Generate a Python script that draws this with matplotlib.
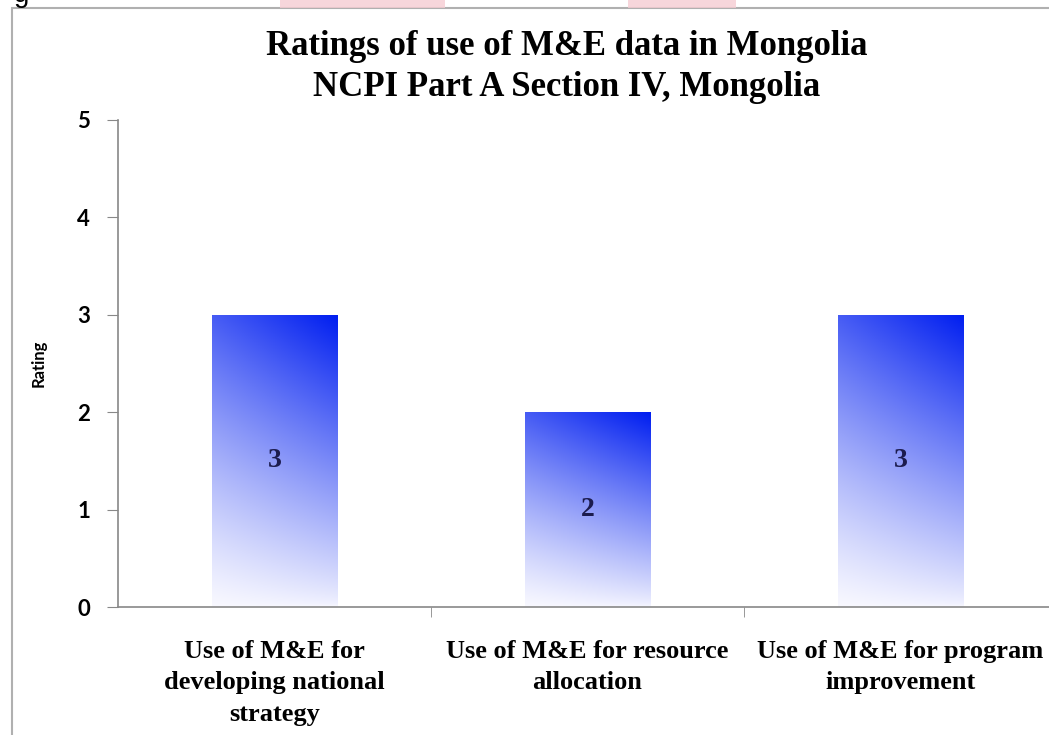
import numpy as np
import matplotlib
matplotlib.use("Agg")
import matplotlib.pyplot as plt
from matplotlib.patches import Rectangle

# data
categories = ["Use of M&E for\ndeveloping national\nstrategy",
              "Use of M&E for resource\nallocation",
              "Use of M&E for program\nimprovement"]
ratings = [3, 2, 3]
yticks = [0, 1, 2, 3, 4, 5]
title = "Ratings of use of M&E data in Mongolia\nNCPI Part A Section IV, Mongolia"

W, H = 1049, 735
fig = plt.figure(figsize=(W / 100, H / 100), dpi=100)
fig.patch.set_facecolor("white")

# outer frame of the original figure box (cut off at right/bottom)
fig.patches.append(Rectangle((12 / W, -0.05), 1.1, 1 - 8 / H + 0.05,
                             transform=fig.transFigure, fill=False,
                             edgecolor="#b0b0b0", linewidth=1.5))
# watermark fragments and caption remnant at the top edge
fig.patches.append(Rectangle((280 / W, 1 - 8 / H), 165 / W, 8 / H,
                             transform=fig.transFigure, color="#f6ccd2", alpha=0.8, lw=0))
fig.patches.append(Rectangle((628 / W, 1 - 8 / H), 108 / W, 8 / H,
                             transform=fig.transFigure, color="#f6ccd2", alpha=0.8, lw=0))
fig.text(14 / W, 1 - 2 / H, "g", fontsize=20, fontfamily="Liberation Sans",
         va="baseline", ha="left")

ax = fig.add_axes([118 / W, 1 - 607 / H, (1057 - 118) / W, (607 - 120) / H])
x = np.arange(len(ratings))
bars = ax.bar(x, ratings, width=0.4, facecolor="none", edgecolor="none")

# diagonal white -> blue gradient inside each bar
ny, nx = 200, 60
t = np.linspace(0, 1, ny)[:, None]
s = np.linspace(0, 1, nx)[None, :]
a = np.clip(0.0 + 0.72 * t ** 1.15 + 0.28 * s * t ** 0.5, 0, 1)
white = np.array([248, 248, 255]) / 255
blue = np.array([0, 30, 240]) / 255
img = white[None, None, :] * (1 - a[..., None]) + blue[None, None, :] * a[..., None]
for b in bars:
    bx, bw, bh = b.get_x(), b.get_width(), b.get_height()
    im = ax.imshow(img, extent=[bx, bx + bw, 0, bh], origin="lower",
                   aspect="auto", zorder=2)
    im.set_clip_path(b)
    ax.text(bx + bw / 2, bh / 2, str(int(bh)), ha="center", va="center",
            fontsize=20, fontweight="bold", fontfamily="Liberation Serif",
            color="#1c1c4e", zorder=3)

ax.set_xlim(-0.5, 2.5)
ax.set_ylim(0, 5)
ax.set_yticks(yticks)
ax.set_xticks(x)
ax.set_xticklabels(categories, fontsize=19, fontweight="bold",
                   fontfamily="Liberation Serif", linespacing=1.45)
ax.set_xticks([0.5, 1.5], minor=True)
ax.tick_params(axis="x", which="major", length=0, pad=24)
ax.tick_params(axis="x", which="minor", length=7, color="#888888", direction="out")
ax.tick_params(axis="y", length=8, color="#888888", direction="out", pad=12)
for lab in ax.get_yticklabels():
    lab.set_fontsize(16)
    lab.set_fontweight("bold")
    lab.set_fontfamily("Lato")

for side in ["top", "right"]:
    ax.spines[side].set_visible(False)
for side in ["left", "bottom"]:
    ax.spines[side].set_color("#888888")
    ax.spines[side].set_linewidth(1.2)

ax.set_ylabel("Rating", fontsize=12, fontweight="bold", fontfamily="Lato", labelpad=22)

fig.text(567 / W, 1 - 67 / H, title, ha="center", va="center", fontsize=25,
         fontweight="bold", fontfamily="Liberation Serif", linespacing=1.32)

fig.savefig("out.png", dpi=100)
